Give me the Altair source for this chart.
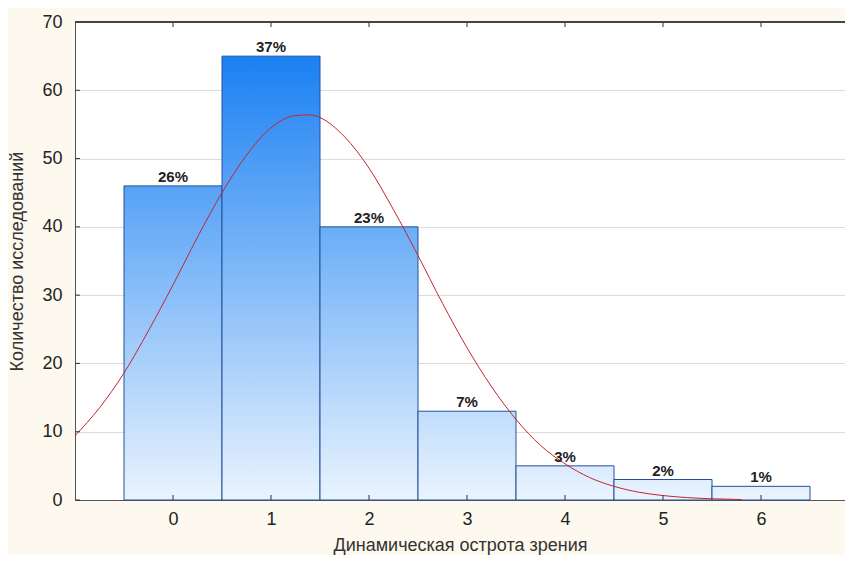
import altair as alt
import pandas as pd

# ---- data ----
categories = [0, 1, 2, 3, 4, 5, 6]
counts = [46, 65, 40, 13, 5, 3, 2]
percent_labels = ["26%", "37%", "23%", "7%", "3%", "2%", "1%"]

curve_x = [-1, -0.75, -0.5, -0.25, 0, 0.25, 0.5, 0.75, 1, 1.25, 1.4, 1.5, 1.75, 2,
           2.25, 2.5, 2.75, 3, 3.25, 3.5, 3.75, 4, 4.25, 4.5, 4.75, 5, 5.25, 5.5, 5.8]
curve_y = [9.4, 13.5, 18.6, 24.8, 31.5, 38.5, 45.0, 50.5, 54.5, 56.3, 56.4, 56.0, 53.2, 48.6,
           42.5, 35.8, 28.8, 22.3, 16.6, 11.8, 8.0, 5.3, 3.3, 2.0, 1.15, 0.65, 0.35, 0.18, 0.07]

y_ticks = [0, 10, 20, 30, 40, 50, 60, 70]

W, H = 770, 478
X_DOMAIN = [-1, 6.857]
Y_DOMAIN = [0, 70]

bars = pd.DataFrame({"cat": categories, "count": counts, "pct": percent_labels})
curve = pd.DataFrame({"x": curve_x, "y": curve_y})
yt = pd.DataFrame({"v": y_ticks})

xs = alt.Scale(domain=X_DOMAIN, nice=False, zero=False)
ys = alt.Scale(domain=Y_DOMAIN, nice=False)

TOP = (26, 128, 242)
BOT = (234, 244, 254)


def mix(v):
    f = max(0.0, min(1.0, v / 65.0))
    c = [round(BOT[i] + (TOP[i] - BOT[i]) * f) for i in range(3)]
    return "#%02x%02x%02x" % tuple(c)


base = alt.Chart(bars).transform_calculate(
    x1="datum.cat - 0.5", x2="datum.cat + 0.5"
)

bar_layers = []
for c, h in zip(categories, counts):
    grad = alt.Gradient(
        gradient="linear", x1=0, x2=0, y1=0, y2=1,
        stops=[alt.GradientStop(color=mix(h), offset=0),
               alt.GradientStop(color=mix(0), offset=1)],
    )
    layer = base.transform_filter(alt.datum.cat == c).mark_bar(
        color=grad, stroke="#24509a", strokeWidth=1
    ).encode(
        x=alt.X("x1:Q", scale=xs,
                axis=alt.Axis(values=categories, title="Динамическая острота зрения",
                              format="d", grid=False, ticks=False, labelPadding=10,
                              titlePadding=8, domainColor="#555555")),
        x2="x2:Q",
        y=alt.Y("count:Q", scale=ys,
                axis=alt.Axis(values=y_ticks, title="Количество исследований",
                              format="d", grid=True, gridColor="#dcdcdc", ticks=False,
                              labelPadding=13, titlePadding=15, domainColor="#555555")),
        y2=alt.datum(0),
    )
    bar_layers.append(layer)

labels = alt.Chart(bars).mark_text(
    dy=-9, fontWeight="bold", fontSize=15, font="Liberation Sans", color="#222222"
).encode(
    x=alt.X("cat:Q", scale=xs), y=alt.Y("count:Q", scale=ys), text="pct:N"
)

line = alt.Chart(curve).mark_line(color="#c4252c", strokeWidth=1, interpolate="monotone").encode(
    x=alt.X("x:Q", scale=xs), y=alt.Y("y:Q", scale=ys)
)

xticks = alt.Chart(bars).mark_rule(color="#333333").encode(
    x=alt.X("cat:Q", scale=xs), y=alt.value(H), y2=alt.value(H - 5)
)
xticks_top = alt.Chart(bars).mark_rule(color="#333333").encode(
    x=alt.X("cat:Q", scale=xs), y=alt.value(0), y2=alt.value(5)
)
yticks = alt.Chart(yt).mark_rule(color="#333333").encode(
    y=alt.Y("v:Q", scale=ys), x=alt.value(0), x2=alt.value(5)
)
top_line = alt.Chart(bars).mark_rule(color="#444444", strokeWidth=1.2).encode(
    x=alt.value(0), x2=alt.value(W), y=alt.value(0)
)

chart = alt.layer(*bar_layers, line, labels, xticks, xticks_top, yticks, top_line).properties(
    width=W, height=H,
    autosize=alt.AutoSizeParams(type="none"),
    padding={"left": 67, "top": 14, "right": 0, "bottom": 55},
    background="#fdf9ef",
).configure_view(
    fill="white", stroke=None
).configure_axis(
    labelFont="Liberation Sans", titleFont="Liberation Sans",
    labelFontSize=18, titleFontSize=18, labelColor="#222222",
    titleColor="#333333", titleFontWeight="normal",
)

chart.save("out.html", embed_options={"renderer": "svg", "actions": False})
